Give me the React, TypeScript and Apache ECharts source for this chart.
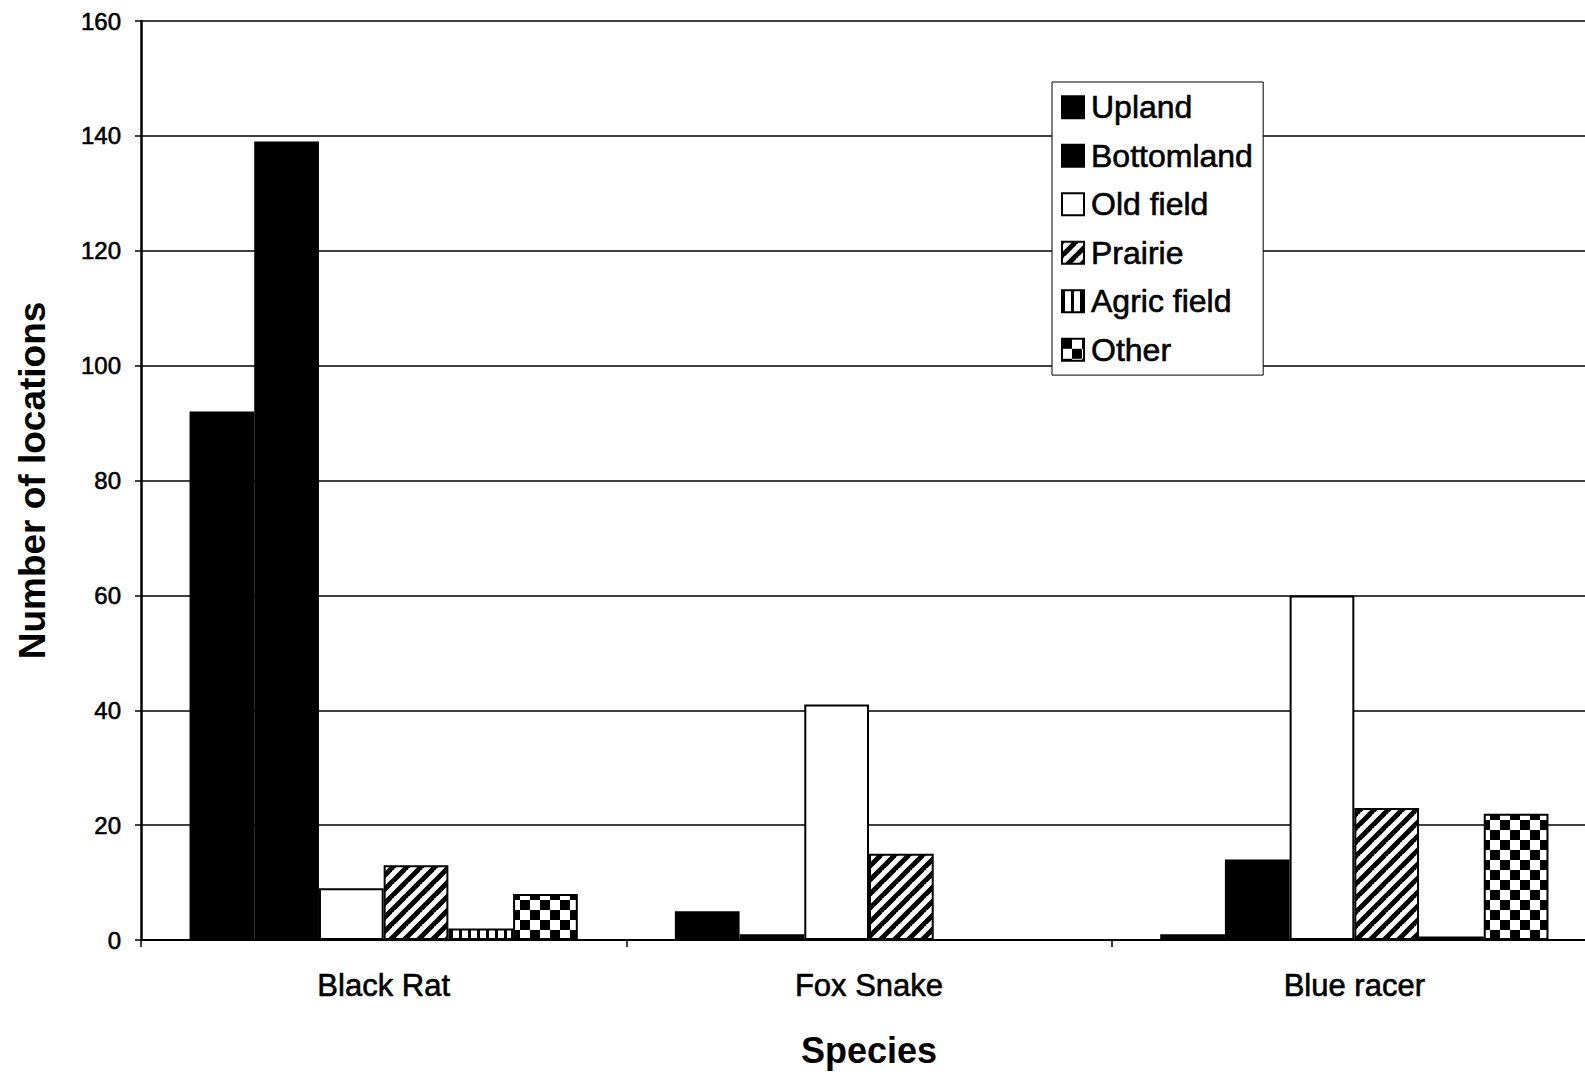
import React, { useEffect, useRef } from "react";
import * as echarts from "echarts";

const categories = ["Black Rat", "Fox Snake", "Blue racer"];
const seriesNames = ["Upland", "Bottomland", "Old field", "Prairie", "Agric field", "Other"];
const upland = [92, 5, 1];
const bottomland = [139, 1, 14];
const oldField = [9, 41, 60];
const prairie = [13, 15, 23];
const agricField = [2, 0, 0.6];
const other = [8, 0, 22];
const yTicks = { min: 0, max: 160, interval: 20 };

function stripes(): HTMLCanvasElement {
  const s = 14;
  const c = document.createElement("canvas");
  c.width = s;
  c.height = s;
  const g = c.getContext("2d")!;
  g.fillStyle = "#fff";
  g.fillRect(0, 0, s, s);
  g.strokeStyle = "#000";
  g.lineWidth = 5;
  for (const k of [0, s, 2 * s]) {
    g.beginPath();
    g.moveTo(k + 1, -1);
    g.lineTo(-1, k + 1);
    g.stroke();
  }
  return c;
}

function vstripes(): HTMLCanvasElement {
  const c = document.createElement("canvas");
  c.width = 9;
  c.height = 9;
  const g = c.getContext("2d")!;
  g.fillStyle = "#fff";
  g.fillRect(0, 0, 9, 9);
  g.fillStyle = "#000";
  g.fillRect(0, 0, 3, 9);
  return c;
}

function checker(): HTMLCanvasElement {
  const n = 10;
  const c = document.createElement("canvas");
  c.width = 2 * n;
  c.height = 2 * n;
  const g = c.getContext("2d")!;
  g.fillStyle = "#fff";
  g.fillRect(0, 0, 2 * n, 2 * n);
  g.fillStyle = "#000";
  g.fillRect(0, 0, n, n);
  g.fillRect(n, n, n, n);
  return c;
}

const CHART_W = 1610;

export default function App() {
  const ref = useRef<HTMLDivElement>(null);
  useEffect(() => {
    const chart = echarts.init(ref.current!, undefined, { renderer: "svg" });
    const font = "Liberation Sans, Arial, sans-serif";
    const thick = { textBorderColor: "#000", textBorderWidth: 0.6 };
    const fills: any[] = [
      "#000",
      "#000",
      "#fff",
      { image: stripes(), repeat: "repeat" },
      { image: vstripes(), repeat: "repeat" },
      { image: checker(), repeat: "repeat" },
    ];
    const data = [upland, bottomland, oldField, prairie, agricField, other];
    chart.setOption({
      animation: false,
      backgroundColor: "#fff",
      textStyle: { fontFamily: font, color: "#000" },
      grid: { left: 141, top: 21, width: 1456, bottom: 134 },
      legend: {
        left: 1052,
        top: 82,
        orient: "vertical",
        backgroundColor: "#fff",
        borderColor: "#000",
        borderWidth: 1,
        borderRadius: 0,
        padding: [9, 10, 9, 9],
        itemGap: 15.9,
        itemWidth: 22,
        itemHeight: 22,
        icon: "rect",
        textStyle: {
          fontSize: 32,
          lineHeight: 32,
          fontFamily: font,
          color: "#000",
          padding: [0, 0, 0, 2],
          ...thick,
        },
        data: seriesNames,
      },
      xAxis: {
        type: "category",
        data: categories,
        name: "Species",
        nameLocation: "middle",
        nameGap: 92,
        nameTextStyle: { fontSize: 36, fontWeight: "bold", fontFamily: font, color: "#000" },
        axisLine: { lineStyle: { color: "#000", width: 2 } },
        axisTick: { show: true, length: 7, lineStyle: { color: "#000", width: 1.5 } },
        axisLabel: { fontSize: 31, fontFamily: font, color: "#000", margin: 30, ...thick },
      },
      yAxis: {
        type: "value",
        min: yTicks.min,
        max: yTicks.max,
        interval: yTicks.interval,
        name: "Number of locations",
        nameLocation: "middle",
        nameRotate: 90,
        nameGap: 90,
        nameTextStyle: { fontSize: 37, fontWeight: "bold", fontFamily: font, color: "#000" },
        axisLine: { show: true, lineStyle: { color: "#000", width: 2.5 } },
        axisTick: { show: true, length: 6, lineStyle: { color: "#000", width: 1.5 } },
        axisLabel: { fontSize: 24, fontFamily: font, color: "#000", margin: 20, ...thick },
        splitLine: { show: true, lineStyle: { color: "#000", width: 1.5 } },
      },
      series: seriesNames.map((name, i) => ({
        name,
        type: "bar",
        data: data[i],
        barGap: "0%",
        barCategoryGap: "20%",
        itemStyle: {
          color: fills[i],
          borderColor: "#000",
          borderWidth: 2,
        },
      })),
    });
    return () => chart.dispose();
  }, []);
  return (
    <div
      style={{
        position: "absolute",
        left: 0,
        top: 0,
        width: 1585,
        height: 1074,
        overflow: "hidden",
        background: "#fff",
      }}
    >
      <div ref={ref} style={{ width: CHART_W, height: 1074 }} />
    </div>
  );
}
